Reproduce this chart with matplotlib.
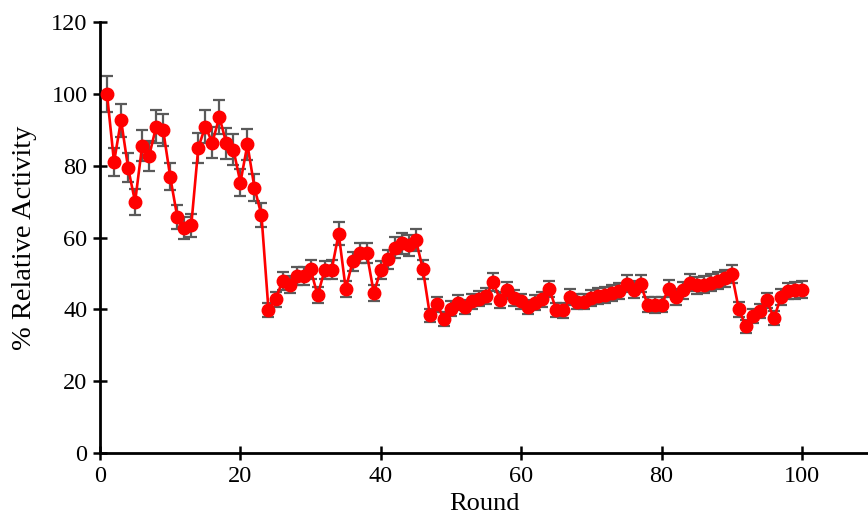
import matplotlib
matplotlib.use("Agg")
import matplotlib.pyplot as plt

rounds = list(range(1, 101))
activity = [
    99.9, 81.0, 92.7, 79.4, 69.9, 85.5, 82.7, 90.9, 89.9, 76.9,
    65.8, 62.7, 63.4, 85.0, 90.9, 86.4, 93.6, 86.2, 84.5, 75.3,
    85.9, 73.9, 66.2, 39.8, 42.8, 47.9, 46.9, 49.3, 49.4, 51.1,
    43.9, 50.9, 51.0, 61.1, 45.7, 53.4, 55.8, 55.6, 44.6, 50.9,
    53.9, 57.2, 58.4, 57.8, 59.3, 51.1, 38.3, 41.4, 37.3, 40.2,
    41.8, 40.7, 42.3, 43.0, 43.7, 47.6, 42.6, 45.3, 43.2, 42.3,
    40.7, 41.8, 42.8, 45.7, 39.8, 39.7, 43.4, 42.1, 42.1, 43.2,
    43.7, 44.1, 44.6, 45.1, 47.1, 45.5, 47.1, 41.3, 41.2, 41.3,
    45.8, 43.4, 45.3, 47.4, 46.7, 46.9, 47.4, 48.0, 48.6, 49.9,
    40.0, 35.3, 38.1, 39.5, 42.5, 37.5, 43.4, 45.1, 45.3, 45.5,
]
error = [
    5.0, 4.0, 4.6, 4.0, 3.5, 4.3, 4.1, 4.5, 4.5, 3.8,
    3.3, 3.1, 3.2, 4.2, 4.5, 4.3, 4.7, 4.3, 4.2, 3.8,
    4.3, 3.7, 3.3, 2.0, 2.1, 2.4, 2.3, 2.5, 2.5, 2.6,
    2.2, 2.5, 2.6, 3.1, 2.3, 2.7, 2.8, 2.8, 2.2, 2.5,
    2.7, 2.9, 2.9, 2.9, 3.0, 2.6, 1.9, 2.1, 1.9, 2.0,
    2.1, 2.0, 2.1, 2.2, 2.2, 2.4, 2.1, 2.3, 2.2, 2.1,
    2.0, 2.1, 2.1, 2.3, 2.0, 2.0, 2.2, 2.1, 2.1, 2.2,
    2.2, 2.2, 2.2, 2.3, 2.4, 2.3, 2.4, 2.1, 2.1, 2.1,
    2.3, 2.2, 2.3, 2.4, 2.3, 2.3, 2.4, 2.4, 2.4, 2.5,
    2.0, 1.8, 1.9, 2.0, 2.1, 1.9, 2.2, 2.3, 2.3, 2.3,
]
x_ticks = [0, 20, 40, 60, 80, 100]
y_ticks = [0, 20, 40, 60, 80, 100, 120]

plt.rcParams['font.family'] = ['Liberation Serif', 'DejaVu Serif']

fig = plt.figure(figsize=(8.68, 5.22), dpi=100)
ax = fig.add_axes([100 / 868, 69 / 522, 768 / 868, 431 / 522])

ax.errorbar(rounds, activity, yerr=error, fmt='none', ecolor='#5a5a5a',
            elinewidth=1.6, capsize=4, capthick=1.6, zorder=2)
ax.plot(rounds, activity, color='#ff0000', linewidth=1.9, marker='o',
        markersize=9, markerfacecolor='#ff0000', markeredgecolor='#ff0000',
        zorder=3)

ax.set_xlim(0, 109.4)
ax.set_ylim(0, 120)
ax.set_xticks(x_ticks)
ax.set_yticks(y_ticks)
for s in ['top', 'right']:
    ax.spines[s].set_visible(False)
for s in ['left', 'bottom']:
    ax.spines[s].set_linewidth(2)
    ax.spines[s].set_color('black')
ax.tick_params(direction='inout', length=10, width=1.8, labelsize=17.5, pad=4)
ax.set_xlabel('Round', fontsize=19, labelpad=5)
ax.set_ylabel('% Relative Activity', fontsize=20.5, labelpad=10)

fig.savefig('out.png', dpi=100)
